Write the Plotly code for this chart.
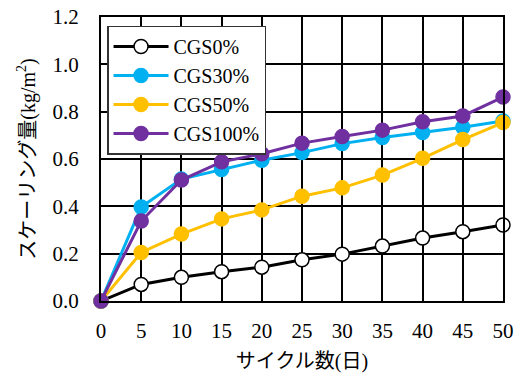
import plotly.graph_objects as go

cycles = [0, 5, 10, 15, 20, 25, 30, 35, 40, 45, 50]
cgs0 = [0.0, 0.070, 0.100, 0.124, 0.143, 0.174, 0.198, 0.232, 0.266, 0.293, 0.321]
cgs30 = [0.0, 0.397, 0.515, 0.556, 0.595, 0.627, 0.665, 0.691, 0.712, 0.734, 0.761]
cgs50 = [0.0, 0.205, 0.283, 0.347, 0.385, 0.443, 0.478, 0.532, 0.603, 0.682, 0.754]
cgs100 = [0.0, 0.338, 0.511, 0.588, 0.622, 0.667, 0.695, 0.722, 0.757, 0.782, 0.862]

series = [
    ("CGS0%", cgs0, "black", "white"),
    ("CGS30%", cgs30, "#00B0F0", "#00B0F0"),
    ("CGS50%", cgs50, "#FFC000", "#FFC000"),
    ("CGS100%", cgs100, "#7030A0", "#7030A0"),
]

FONT = "Liberation Serif, DejaVu Serif, serif"
TFONT = "Liberation Serif, Noto Sans CJK JP, serif"

fig = go.Figure()
for name, vals, lc, fc in series:
    fig.add_trace(go.Scatter(
        x=cycles, y=vals, name=name, mode="lines+markers",
        line=dict(color=lc, width=3),
        marker=dict(size=14, color=fc, line=dict(color=lc, width=1.5)),
        cliponaxis=False,
    ))

fig.update_layout(
    width=525, height=374,
    margin=dict(l=101, r=22, t=17, b=73, autoexpand=False),
    paper_bgcolor="white", plot_bgcolor="white",
    font=dict(family=FONT, size=21, color="black"),
    showlegend=True,
    legend=dict(
        x=0.015, y=0.97, xanchor="left", yanchor="top",
        bgcolor="white", bordercolor="#333333", borderwidth=1.5,
        font=dict(family=FONT, size=20, color="black"),
        tracegroupgap=0, itemwidth=55,
    ),
    xaxis=dict(
        range=[0, 50], tickvals=cycles, showgrid=True, gridcolor="black", gridwidth=1.5,
        showline=True, linecolor="black", linewidth=2, mirror=True,
        ticks="", zeroline=False, ticklabelstandoff=10, automargin=False,
        title=dict(text="サイクル数(日)", font=dict(family=TFONT, size=20, color="black"), standoff=12),
        tickfont=dict(family=FONT, size=21, color="black"),
    ),
    yaxis=dict(
        range=[0, 1.2], dtick=0.2, tickformat=".1f", showgrid=True, gridcolor="black", gridwidth=1.5,
        showline=True, linecolor="black", linewidth=2, mirror=True,
        ticks="", zeroline=False, ticklabelstandoff=16, automargin=False,
        title=dict(text="スケーリング量(kg/m<sup>2</sup>)", font=dict(family=TFONT, size=20, color="black"), standoff=12),
        tickfont=dict(family=FONT, size=21, color="black"),
    ),
)

fig.write_html("out.html")
